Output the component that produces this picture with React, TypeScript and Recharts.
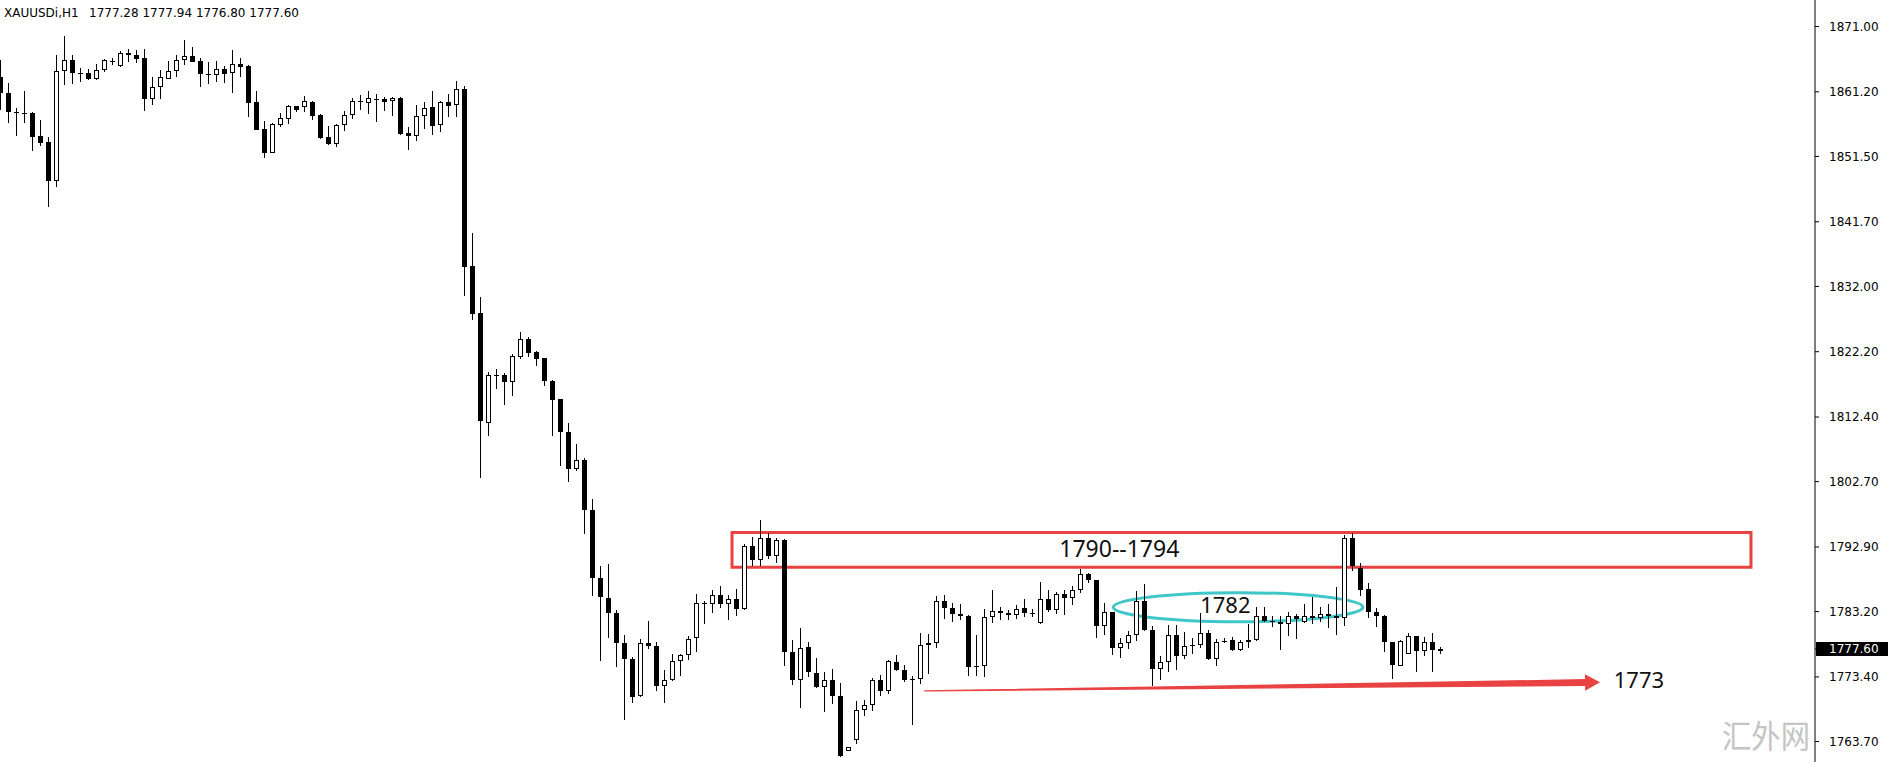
import React from 'react';
import { ComposedChart, Bar, XAxis, YAxis, ReferenceArea, ReferenceLine, ReferenceDot } from 'recharts';

// ---- Data (XAUUSDi, H1) ----
const OPEN = [
  1863.48, 1861.08, 1858.23, 1858.0, 1858.08, 1854.58, 1853.68, 1847.88, 1864.28, 1865.93,
  1864.0, 1863.98, 1863.08, 1864.43, 1865.83, 1865.03, 1867.03, 1866.73, 1866.23, 1860.18,
  1861.98, 1863.18, 1864.28, 1865.93, 1866.58, 1865.83, 1863.93, 1863.68, 1864.58, 1863.98,
  1865.38, 1865.08, 1859.68, 1855.63, 1852.08, 1856.28, 1857.18, 1859.03, 1858.88, 1859.68,
  1857.73, 1854.43, 1853.43, 1856.18, 1857.78, 1859.73, 1859.58, 1860.23, 1860.13, 1859.78,
  1860.28, 1855.03, 1854.63, 1857.53, 1858.93, 1856.28, 1859.68, 1859.18, 1861.58, 1835.08,
  1827.98, 1811.48, 1818.68, 1818.68, 1817.58, 1821.48, 1824.18, 1822.18, 1821.23, 1817.88,
  1815.08, 1810.13, 1804.58, 1805.98, 1798.48, 1788.28, 1785.28, 1782.98, 1778.53, 1776.08,
  1770.48, 1778.48, 1778.08, 1771.98, 1772.88, 1775.73, 1776.68, 1779.18, 1784.58, 1784.33,
  1785.68, 1784.33, 1785.08, 1783.58, 1793.08, 1790.88, 1794.23, 1791.48, 1793.98, 1777.13,
  1772.88, 1777.93, 1773.98, 1771.83, 1772.93, 1770.58, 1762.33, 1763.98, 1768.38, 1769.18,
  1772.93, 1771.23, 1775.63, 1774.43, 1773.08, 1773.08, 1778.18, 1778.48, 1784.83, 1783.73,
  1782.83, 1782.58, 1775.08, 1774.98, 1782.38, 1783.33, 1782.98, 1782.63, 1783.73, 1782.98,
  1781.48, 1785.08, 1783.38, 1785.83, 1785.18, 1786.38, 1788.83, 1787.98, 1780.98, 1783.13,
  1777.68, 1778.48, 1779.68, 1784.78, 1780.48, 1774.63, 1775.63, 1779.68, 1776.48, 1778.2,
  1778.18, 1779.98, 1776.13, 1778.9, 1778.88, 1777.38, 1778.63, 1778.98, 1782.48, 1781.83,
  1781.58, 1781.33, 1782.58, 1781.68, 1782.48, 1782.18, 1782.83, 1782.48, 1782.18, 1794.23,
  1789.68, 1786.58, 1783.13, 1782.58, 1778.68, 1775.08, 1776.83, 1779.48, 1777.23, 1778.63,
  1777.28,
];
const HIGH = [
  1865.98, 1862.48, 1858.73, 1861.33, 1858.23, 1856.98, 1854.48, 1866.73, 1869.58, 1866.73,
  1864.78, 1864.58, 1865.38, 1866.08, 1866.28, 1867.28, 1867.58, 1867.48, 1867.58, 1863.48,
  1864.48, 1865.78, 1866.73, 1868.98, 1867.98, 1866.23, 1865.68, 1865.78, 1865.08, 1867.48,
  1866.3, 1865.23, 1861.33, 1856.83, 1856.48, 1857.98, 1859.28, 1859.13, 1860.58, 1859.78,
  1857.88, 1856.08, 1856.38, 1858.33, 1860.28, 1860.73, 1861.33, 1860.88, 1860.38, 1860.38,
  1860.38, 1855.93, 1859.23, 1859.68, 1861.33, 1859.83, 1860.88, 1862.83, 1862.0, 1839.98,
  1830.38, 1819.18, 1819.58, 1818.98, 1821.88, 1825.18, 1824.48, 1822.3, 1821.3, 1817.98,
  1815.1, 1811.48, 1808.38, 1806.23, 1800.13, 1789.98, 1790.38, 1783.48, 1779.73, 1776.38,
  1779.13, 1781.73, 1778.58, 1774.48, 1776.88, 1776.78, 1779.58, 1785.88, 1784.73, 1786.38,
  1787.08, 1785.68, 1786.58, 1793.38, 1794.38, 1796.98, 1794.98, 1794.23, 1794.08, 1778.98,
  1780.68, 1778.68, 1776.28, 1774.08, 1774.58, 1772.48, 1762.83, 1769.83, 1769.93, 1773.23,
  1773.68, 1775.98, 1776.73, 1775.18, 1773.58, 1779.98, 1779.83, 1785.58, 1785.73, 1784.48,
  1784.33, 1782.68, 1779.68, 1783.58, 1786.38, 1783.88, 1783.48, 1784.23, 1785.08, 1783.58,
  1787.68, 1786.48, 1786.08, 1786.38, 1787.08, 1789.58, 1788.98, 1788.0, 1784.48, 1783.2,
  1779.23, 1780.23, 1786.33, 1787.33, 1780.98, 1776.48, 1781.18, 1781.18, 1780.08, 1779.23,
  1782.98, 1780.38, 1779.08, 1779.18, 1779.38, 1778.98, 1781.38, 1783.83, 1783.83, 1782.48,
  1782.48, 1783.08, 1782.88, 1784.33, 1785.38, 1783.88, 1784.33, 1786.88, 1794.73, 1794.98,
  1790.48, 1787.48, 1783.73, 1782.73, 1778.7, 1778.98, 1779.98, 1779.58, 1779.38, 1779.98,
  1777.94,
];
const LOW = [
  1858.48, 1856.58, 1854.58, 1856.58, 1852.38, 1853.08, 1843.98, 1846.88, 1862.23, 1862.38,
  1862.63, 1862.98, 1862.98, 1864.18, 1865.18, 1864.98, 1865.63, 1865.58, 1858.38, 1859.28,
  1860.18, 1863.18, 1863.48, 1865.18, 1865.7, 1861.98, 1862.38, 1862.68, 1862.58, 1860.98,
  1863.48, 1857.38, 1855.5, 1851.33, 1851.98, 1855.98, 1856.43, 1858.13, 1858.18, 1856.98,
  1854.18, 1853.28, 1852.98, 1855.38, 1857.13, 1858.48, 1857.88, 1856.68, 1858.33, 1857.63,
  1854.78, 1852.53, 1853.88, 1855.68, 1854.78, 1855.23, 1857.43, 1857.43, 1830.58, 1826.98,
  1803.23, 1809.58, 1816.58, 1814.23, 1815.58, 1821.08, 1821.48, 1820.08, 1816.98, 1809.48,
  1805.08, 1802.58, 1804.23, 1794.88, 1785.48, 1775.73, 1779.18, 1774.83, 1766.98, 1769.48,
  1770.33, 1777.63, 1771.23, 1769.48, 1772.73, 1773.48, 1775.88, 1777.08, 1781.28, 1782.93,
  1783.68, 1781.88, 1782.48, 1783.38, 1790.08, 1790.08, 1791.08, 1790.48, 1774.98, 1772.23,
  1768.73, 1773.38, 1771.8, 1768.13, 1769.38, 1761.38, 1762.33, 1763.38, 1767.48, 1768.33,
  1770.48, 1770.88, 1774.35, 1772.58, 1766.23, 1772.28, 1773.88, 1777.73, 1782.13, 1781.58,
  1781.98, 1773.58, 1773.58, 1773.38, 1781.48, 1781.88, 1781.88, 1782.13, 1782.38, 1782.38,
  1781.4, 1783.08, 1782.88, 1782.63, 1784.13, 1785.98, 1787.48, 1779.23, 1779.73, 1776.73,
  1776.23, 1777.58, 1778.83, 1780.23, 1772.08, 1772.98, 1774.18, 1774.48, 1776.08, 1776.88,
  1777.73, 1775.88, 1774.98, 1778.48, 1777.28, 1777.23, 1777.73, 1778.73, 1781.58, 1780.88,
  1777.48, 1779.48, 1779.08, 1781.48, 1781.38, 1781.58, 1780.73, 1779.73, 1781.08, 1789.23,
  1785.58, 1782.23, 1780.83, 1777.08, 1773.08, 1774.98, 1776.83, 1774.08, 1776.48, 1774.08,
  1776.8,
];
const CLOSE = [
  1860.98, 1858.23, 1857.98, 1857.9, 1854.48, 1853.58, 1847.88, 1864.28, 1865.93, 1863.98,
  1864.05, 1863.08, 1864.43, 1865.93, 1865.88, 1866.98, 1866.68, 1866.18, 1860.18, 1861.98,
  1863.38, 1864.28, 1865.93, 1866.58, 1865.73, 1863.83, 1863.68, 1864.58, 1863.93, 1865.38,
  1864.98, 1859.58, 1855.53, 1852.08, 1856.38, 1857.23, 1859.03, 1858.48, 1859.78, 1857.63,
  1854.28, 1853.43, 1856.23, 1857.73, 1859.78, 1859.78, 1860.28, 1860.08, 1859.73, 1860.28,
  1854.93, 1854.63, 1857.53, 1858.78, 1856.13, 1859.68, 1859.13, 1861.58, 1834.98, 1827.88,
  1811.73, 1818.68, 1818.7, 1817.58, 1821.58, 1824.08, 1822.08, 1821.13, 1817.88, 1814.98,
  1810.08, 1804.58, 1805.98, 1798.38, 1788.18, 1785.38, 1782.93, 1778.48, 1776.08, 1770.33,
  1778.48, 1777.98, 1771.98, 1772.93, 1775.78, 1776.68, 1779.08, 1784.48, 1784.38, 1785.68,
  1784.33, 1785.08, 1783.58, 1793.08, 1790.88, 1794.23, 1791.48, 1793.98, 1777.08, 1772.88,
  1777.73, 1774.08, 1771.83, 1772.93, 1770.48, 1761.58, 1762.83, 1768.43, 1769.18, 1772.93,
  1771.23, 1775.78, 1774.38, 1772.98, 1773.08, 1778.18, 1778.48, 1784.83, 1783.73, 1782.83,
  1782.48, 1774.83, 1774.88, 1782.38, 1783.33, 1782.98, 1782.63, 1783.58, 1782.98, 1782.98,
  1785.08, 1783.38, 1785.83, 1785.18, 1786.38, 1788.83, 1787.98, 1780.98, 1783.08, 1777.73,
  1778.48, 1779.68, 1784.78, 1780.38, 1774.63, 1775.63, 1779.68, 1776.48, 1777.98, 1778.18,
  1779.98, 1776.13, 1778.63, 1778.78, 1777.38, 1778.63, 1778.98, 1782.48, 1781.73, 1781.58,
  1781.33, 1782.58, 1782.08, 1782.48, 1782.18, 1782.83, 1782.58, 1782.18, 1794.23, 1790.08,
  1786.48, 1783.08, 1782.48, 1778.58, 1775.13, 1778.78, 1779.48, 1777.23, 1778.58, 1777.38,
  1777.6,
];

const Y_TICKS = [1871.0, 1861.2, 1851.5, 1841.7, 1832.0, 1822.2, 1812.4, 1802.7, 1792.9, 1783.2, 1773.4, 1763.7];
const Y_DOMAIN = [1760.63, 1874.98];
const X_DOMAIN = [-0.0625, 226.8125];
const LAST_PRICE = 1777.6;
const SYMBOL = 'XAUUSDi,H1';
const QUOTE = '1777.28 1777.94 1776.80 1777.60';
const WATERMARK = '汇外网';

// annotations (bar index / price)
const ZONE_X = [91.44, 218.81];
const ZONE_Y = [1789.85, 1795.07];
const ZONE_TEXT = '1790--1794';
const ZONE_TEXT_AT = [139.85, 1791.35];
const OVAL_X = [139.1, 170.3];
const OVAL_Y = [1781.68, 1786.04];
const OVAL_TEXT = '1782';
const OVAL_TEXT_AT = [153.1, 1783.0];
const ARROW_FROM = [115.47, 1771.29];
const ARROW_TO = [199.94, 1772.59];
const ARROW_TEXT = '1773';
const ARROW_TEXT_AT = [204.8, 1771.69];

const RED = '#e84242';
const CYAN = '#3fc6c9';

const data = OPEN.map((o, i) => ({
  i,
  open: o,
  high: HIGH[i],
  low: LOW[i],
  close: CLOSE[i],
  range: [LOW[i], HIGH[i]],
}));

const Candle = (props: any) => {
  const { x, y, width, height, payload } = props;
  if (!payload) return null;
  const cx = Math.floor(x + width / 2) + 0.5;
  const top = Math.min(y, y + height);
  const bot = Math.max(y, y + height);
  const span = bot - top;
  const rng = payload.high - payload.low;
  const toPx = (p: number) => (rng > 0 ? top + ((payload.high - p) / rng) * span : top);
  const yo = toPx(payload.open);
  const yc = toPx(payload.close);
  const bTop = Math.min(yo, yc);
  const bBot = Math.max(yo, yc);
  const bull = payload.close > payload.open;
  let body;
  if (bBot - bTop < 1.5) {
    const yy = Math.round((bTop + bBot) / 2) + 0.5;
    body = <line x1={cx - 2.5} x2={cx + 2.5} y1={yy} y2={yy} stroke="#000" strokeWidth={1} />;
  } else if (bull) {
    const t = Math.round(bTop) + 0.5;
    const b = Math.round(bBot) - 0.5;
    body = <rect x={cx - 2} y={t} width={4} height={Math.max(1, b - t)} fill="#fff" stroke="#000" strokeWidth={1} />;
  } else {
    body = <rect x={cx - 2.5} y={Math.round(bTop)} width={5} height={Math.max(1, Math.round(bBot) - Math.round(bTop))} fill="#000" />;
  }
  return (
    <g shapeRendering="crispEdges">
      <line x1={cx} x2={cx} y1={Math.round(top)} y2={Math.round(bot)} stroke="#000" strokeWidth={1} />
      {body}
    </g>
  );
};

const PriceTick = (props: any) => {
  const { x, y, payload } = props;
  const v = payload.value;
  if (Math.abs(v - LAST_PRICE) < 1e-6) {
    return (
      <g>
        <rect x={x - 13} y={y - 7} width={80} height={14} fill="#000" shapeRendering="crispEdges" />
        <text x={x} y={y} dy="0.355em" fill="#fff" fontSize={12} fontFamily="DejaVu Sans">
          {v.toFixed(2)}
        </text>
      </g>
    );
  }
  return (
    <text x={x} y={y} dy="0.355em" fill="#000" fontSize={12} fontFamily="DejaVu Sans">
      {v.toFixed(2)}
    </text>
  );
};

const Arrow = (props: any) => {
  const { x1, y1, x2, y2 } = props;
  if (x1 == null) return null;
  const dx = x2 - x1;
  const dy = y2 - y1;
  const len = Math.sqrt(dx * dx + dy * dy);
  const ux = dx / len;
  const uy = dy / len;
  const nx = -uy;
  const ny = ux;
  const headLen = 15;
  const headHalf = 8.3;
  const tailHalf = 0.6;
  const shaftHalf = 3.4;
  const bx = x2 - ux * headLen;
  const by = y2 - uy * headLen;
  const pts = [
    [x1 + nx * tailHalf, y1 + ny * tailHalf],
    [bx + nx * shaftHalf, by + ny * shaftHalf],
    [bx + nx * headHalf, by + ny * headHalf],
    [x2, y2],
    [bx - nx * headHalf, by - ny * headHalf],
    [bx - nx * shaftHalf, by - ny * shaftHalf],
    [x1 - nx * tailHalf, y1 - ny * tailHalf],
  ];
  return <polygon points={pts.map((p) => p.join(',')).join(' ')} fill={RED} />;
};

const makeLabel = (text: string, size: number) => (props: any) => {
  const { cx, cy } = props;
  if (cx == null) return null;
  return (
    <text x={cx} y={cy} textAnchor="middle" fontSize={size} fontFamily="Noto Sans" fill="#111">
      {text}
    </text>
  );
};

const Oval = (props: any) => {
  const { x, y, width, height } = props;
  if (x == null) return null;
  return (
    <ellipse cx={x + width / 2} cy={y + height / 2} rx={Math.abs(width) / 2} ry={Math.abs(height) / 2} fill="none" stroke={CYAN} strokeWidth={3} />
  );
};

export default function App() {
  return (
    <div style={{ position: 'relative', width: 1888, height: 762, background: '#fff', overflow: 'hidden' }}>
      <style>{`body{margin:0;background:#fff}`}</style>
      <ComposedChart width={1888} height={762} data={data} margin={{ top: 0, right: 0, bottom: 0, left: 0 }}>
        <XAxis dataKey="i" type="number" domain={X_DOMAIN} allowDataOverflow hide />
        <YAxis
          orientation="right"
          type="number"
          domain={Y_DOMAIN}
          allowDataOverflow
          ticks={[...Y_TICKS, LAST_PRICE]}
          interval={0}
          width={73}
          tickSize={4}
          tickMargin={10}
          axisLine={{ stroke: '#000', strokeWidth: 1 }}
          tickLine={{ stroke: '#000', strokeWidth: 1 }}
          tick={<PriceTick />}
        />
        <Bar dataKey="range" barSize={5} shape={<Candle />} isAnimationActive={false} />
        <ReferenceArea
          x1={ZONE_X[0]}
          x2={ZONE_X[1]}
          y1={ZONE_Y[0]}
          y2={ZONE_Y[1]}
          fill="none"
          fillOpacity={0}
          stroke={RED}
          strokeWidth={3}
          ifOverflow="visible"
        />
        <ReferenceArea x1={OVAL_X[0]} x2={OVAL_X[1]} y1={OVAL_Y[0]} y2={OVAL_Y[1]} shape={<Oval />} ifOverflow="visible" />
        <ReferenceLine
          segment={[
            { x: ARROW_FROM[0], y: ARROW_FROM[1] },
            { x: ARROW_TO[0], y: ARROW_TO[1] },
          ]}
          shape={<Arrow />}
          ifOverflow="visible"
        />
        <ReferenceDot x={ZONE_TEXT_AT[0]} y={ZONE_TEXT_AT[1]} r={0} shape={makeLabel(ZONE_TEXT, 23)} ifOverflow="visible" />
        <ReferenceDot x={OVAL_TEXT_AT[0]} y={OVAL_TEXT_AT[1]} r={0} shape={makeLabel(OVAL_TEXT, 22)} ifOverflow="visible" />
        <ReferenceDot x={ARROW_TEXT_AT[0]} y={ARROW_TEXT_AT[1]} r={0} shape={makeLabel(ARROW_TEXT, 22)} ifOverflow="visible" />
      </ComposedChart>
      <svg width={1888} height={762} style={{ position: 'absolute', left: 0, top: 0, pointerEvents: 'none' }}>
        <text x={4} y={16.5} fontSize={12} fontFamily="DejaVu Sans" fill="#000">{SYMBOL}</text>
        <text x={89} y={16.5} fontSize={12} fontFamily="DejaVu Sans" fill="#000">{QUOTE}</text>
        <text x={1722} y={748} fontSize={32} textLength={88} lengthAdjust="spacingAndGlyphs" fontFamily="Noto Sans CJK SC" fill="#c4c4c4">{WATERMARK}</text>
      </svg>
    </div>
  );
}
